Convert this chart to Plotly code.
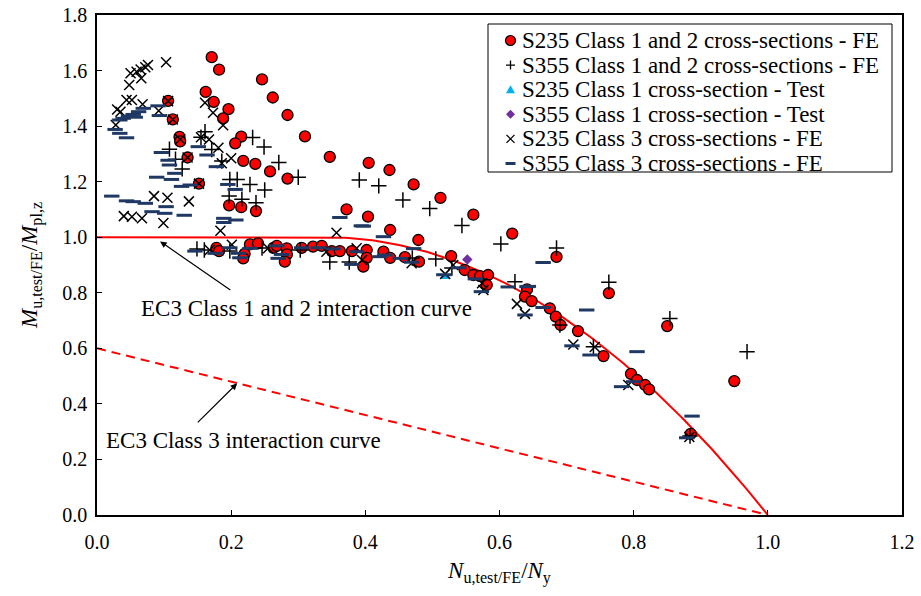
import numpy as np
import plotly.graph_objects as go

# ---- S235 Class 1 and 2 cross-sections - FE ----
s235_c12_n = [0.171, 0.182, 0.162, 0.174, 0.196, 0.188, 0.246, 0.262, 0.284, 0.310, 0.347,
              0.405, 0.436, 0.472, 0.512, 0.561, 0.619, 0.685, 0.763, 0.850, 0.950,
              0.215, 0.206, 0.218, 0.236, 0.258, 0.284, 0.197, 0.215, 0.237,
              0.106, 0.113, 0.123, 0.124, 0.135, 0.152,
              0.372, 0.404, 0.437, 0.479, 0.528,
              0.178, 0.182, 0.220, 0.218, 0.228, 0.240, 0.263, 0.268, 0.283, 0.283, 0.280,
              0.305, 0.322, 0.335, 0.350, 0.362, 0.380, 0.402, 0.402, 0.397, 0.427, 0.437,
              0.459, 0.480, 0.548, 0.561, 0.571, 0.583, 0.581, 0.641, 0.638, 0.648, 0.675,
              0.684, 0.691, 0.717, 0.755, 0.796, 0.805, 0.817, 0.823, 0.885]
s235_c12_m = [1.648, 1.603, 1.523, 1.487, 1.461, 1.428, 1.568, 1.503, 1.440, 1.363, 1.289,
              1.268, 1.242, 1.190, 1.142, 1.081, 1.013, 0.929, 0.799, 0.680, 0.482,
              1.362, 1.338, 1.275, 1.264, 1.237, 1.211, 1.115, 1.108, 1.094,
              1.491, 1.424, 1.361, 1.345, 1.287, 1.193,
              1.100, 1.074, 1.026, 0.990, 0.932,
              0.962, 0.950, 0.940, 0.924, 0.974, 0.978, 0.962, 0.969, 0.960, 0.938, 0.912,
              0.962, 0.966, 0.969, 0.950, 0.950, 0.950, 0.954, 0.926, 0.894, 0.948, 0.926,
              0.928, 0.912, 0.882, 0.864, 0.860, 0.864, 0.828, 0.812, 0.786, 0.770, 0.744,
              0.714, 0.684, 0.662, 0.572, 0.508, 0.486, 0.468, 0.452, 0.292]

# ---- S355 Class 1 and 2 cross-sections - FE ----
s355_c12_n = [0.161, 0.155, 0.232, 0.249, 0.271, 0.300, 0.108, 0.117, 0.127, 0.171, 0.186,
              0.198, 0.209, 0.228, 0.250, 0.197, 0.216, 0.237, 0.391, 0.420, 0.456, 0.496,
              0.544, 0.602, 0.685, 0.763, 0.854, 0.969, 0.623, 0.740,
              0.149, 0.160, 0.198, 0.246, 0.303, 0.347, 0.376, 0.470, 0.505, 0.529, 0.690, 0.884]
s355_c12_m = [1.380, 1.360, 1.359, 1.325, 1.269, 1.216, 1.317, 1.281, 1.246, 1.316, 1.274,
              1.208, 1.208, 1.190, 1.170, 1.148, 1.137, 1.124, 1.206, 1.185, 1.134, 1.103,
              1.042, 0.976, 0.961, 0.838, 0.707, 0.588, 0.840, 0.606,
              0.958, 0.954, 0.950, 0.961, 0.954, 0.911, 0.911, 0.925, 0.922, 0.889, 0.684, 0.284]

# ---- Tests ----
s235_test_n = [0.520]
s235_test_m = [0.857]
s355_test_n = [0.552]
s355_test_m = [0.920]

# ---- S235 Class 3 cross-sections - FE ----
s235_c3_n = [0.103, 0.076, 0.072, 0.065, 0.059, 0.050, 0.066, 0.048, 0.044, 0.052, 0.030,
             0.035, 0.068, 0.092, 0.028, 0.161, 0.173, 0.188, 0.155, 0.167, 0.181, 0.200,
             0.186, 0.085, 0.105, 0.137, 0.040, 0.052, 0.067, 0.099, 0.184, 0.357,
             0.106, 0.113, 0.124, 0.135, 0.152,
             0.201, 0.255, 0.342, 0.387, 0.395, 0.469, 0.519, 0.531, 0.574, 0.576, 0.626,
             0.638, 0.710, 0.742, 0.792, 0.883, 0.168]
s235_c3_m = [1.630, 1.620, 1.612, 1.604, 1.596, 1.590, 1.572, 1.548, 1.494, 1.494, 1.460,
             1.452, 1.479, 1.455, 1.404, 1.484, 1.448, 1.403, 1.360, 1.352, 1.322, 1.284,
             1.266, 1.148, 1.142, 1.129, 1.076, 1.074, 1.068, 1.051, 1.023, 1.016,
             1.490, 1.424, 1.353, 1.287, 1.193,
             0.973, 0.960, 0.948, 0.960, 0.918, 0.906, 0.868, 0.900, 0.834, 0.810, 0.760,
             0.724, 0.614, 0.605, 0.468, 0.281, 0.954]

# ---- S355 Class 3 cross-sections - FE ----
s355_c3_n = [0.022, 0.044, 0.054, 0.072, 0.082, 0.101, 0.130, 0.103, 0.089, 0.111, 0.027,
             0.034, 0.044, 0.034, 0.039, 0.047, 0.054, 0.062, 0.069, 0.057, 0.091, 0.093,
             0.096, 0.106, 0.108, 0.116, 0.126, 0.151, 0.164, 0.178, 0.195, 0.206, 0.207,
             0.189, 0.189, 0.139, 0.362, 0.394, 0.427, 0.472, 0.665, 0.380, 0.517, 0.613,
             0.643, 0.638, 0.665, 0.730, 0.708, 0.735, 0.805, 0.782, 0.887, 0.879, 0.800,
             0.539, 0.564, 0.573, 0.641, 0.429, 0.452, 0.469,
             0.146, 0.176, 0.198, 0.211, 0.213, 0.228, 0.268, 0.275, 0.270, 0.305, 0.330,
             0.352, 0.387, 0.422, 0.397]
s355_c3_m = [1.148, 1.131, 1.128, 1.122, 1.092, 1.086, 1.079, 1.110, 1.216, 1.208, 1.388,
             1.374, 1.358, 1.422, 1.428, 1.436, 1.442, 1.452, 1.464, 1.432, 1.473, 1.438,
             1.305, 1.277, 1.260, 1.230, 1.183, 1.326, 1.296, 1.254, 1.190, 1.172, 1.062,
             1.068, 1.053, 1.188, 1.071, 1.041, 1.002, 0.959, 0.909, 0.902, 0.865, 0.821,
             0.823, 0.720, 0.747, 0.738, 0.609, 0.576, 0.588, 0.462, 0.356, 0.278, 0.480,
             0.890, 0.850, 0.804, 0.822, 0.936, 0.924, 0.910,
             0.950, 0.942, 0.962, 0.942, 0.926, 0.960, 0.969, 0.938, 0.924, 0.962, 0.962,
             0.958, 0.948, 0.930, 1.040]

# ---- EC3 interaction curves (minor axis) ----
a_web = 0.34                      # web area ratio a = (A - 2 b tf) / A
n_curve = np.linspace(0.0, 1.0, 201)
m_curve = np.where(n_curve <= a_web, 1.0, 1.0 - ((n_curve - a_web) / (1.0 - a_web)) ** 2)
n_class3 = [0.0, 1.0]
m_class3 = [0.6, 0.0]

series_labels = [
    "S235 Class 1 and 2 cross-sections - FE",
    "S355 Class 1 and 2 cross-sections - FE",
    "S235 Class 1 cross-section - Test",
    "S355 Class 1 cross-section - Test",
    "S235 Class 3 cross-sections - FE",
    "S355 Class 3 cross-sections - FE",
]

FONT = "Liberation Serif, Times New Roman, serif"
NAVY = "#1F3864"
RED = "#FF0000"
CYAN = "#00B0F0"
PURPLE = "#7030A0"

# figure geometry (pixels)
W, H = 921, 596
ML, MR, MT, MB = 97, 19, 15, 81
PW, PH = W - ML - MR, H - MT - MB


def px_x(px):
    return (px - ML) / PW


def px_y(py):
    return (H - MB - py) / PH


fig = go.Figure()

fig.add_trace(go.Scatter(x=n_curve, y=m_curve, mode="lines", showlegend=False,
                         line=dict(color=RED, width=2)))
fig.add_trace(go.Scatter(x=n_class3, y=m_class3, mode="lines", showlegend=False,
                         line=dict(color=RED, width=2, dash="9px,6px")))

fig.add_trace(go.Scatter(
    x=s235_c12_n, y=s235_c12_m, mode="markers", name=series_labels[0], showlegend=False,
    marker=dict(symbol="circle", size=11, color=RED, line=dict(color="black", width=1.3))))
fig.add_trace(go.Scatter(
    x=s355_c12_n, y=s355_c12_m, mode="markers", name=series_labels[1], showlegend=False,
    marker=dict(symbol="cross-thin", size=11, color="black", line=dict(color="black", width=1.5))))
fig.add_trace(go.Scatter(
    x=s235_test_n, y=s235_test_m, mode="markers", name=series_labels[2], showlegend=False,
    marker=dict(symbol="triangle-up", size=8, color=CYAN, line=dict(width=0))))
fig.add_trace(go.Scatter(
    x=s355_test_n, y=s355_test_m, mode="markers", name=series_labels[3], showlegend=False,
    marker=dict(symbol="diamond", size=8, color=PURPLE, line=dict(width=0))))
fig.add_trace(go.Scatter(
    x=s235_c3_n, y=s235_c3_m, mode="markers", name=series_labels[4], showlegend=False,
    marker=dict(symbol="x-thin", size=10, color="black", line=dict(color="black", width=1.5))))
fig.add_trace(go.Scatter(
    x=s355_c3_n, y=s355_c3_m, mode="markers", name=series_labels[5], showlegend=False,
    marker=dict(symbol="line-ew", size=11, color=NAVY, line=dict(color=NAVY, width=3))))

# ---- legend box (drawn as shapes + text so row pitch stays compact) ----
box_l, box_r, box_t, box_b = 488, 892, 24, 172
row0, pitch = 40.5, 24.6
sym_x, txt_x = 510.5, 520

shapes = [dict(type="rect", xref="paper", yref="paper", layer="above",
               x0=px_x(box_l), x1=px_x(box_r), y0=px_y(box_b), y1=px_y(box_t),
               line=dict(color="black", width=1), fillcolor="white")]

symbol_specs = [
    dict(type="circle", x0=-5, x1=5, y0=-5, y1=5, fillcolor=RED, line=dict(color="black", width=1.2)),
    dict(type="path", path="M-4.5,0H4.5M0,-4.5V4.5", line=dict(color="black", width=1.3)),
    dict(type="path", path="M-4.5,-3.5L4.5,-3.5L0,4.5Z", fillcolor=CYAN, line=dict(width=0)),
    dict(type="path", path="M0,-4.5L4.5,0L0,4.5L-4.5,0Z", fillcolor=PURPLE, line=dict(width=0)),
    dict(type="path", path="M-4,-4L4,4M-4,4L4,-4", line=dict(color="black", width=1.3)),
    dict(type="path", path="M-5,0H5", line=dict(color=NAVY, width=3)),
]

annotations = []
for i, (label, spec) in enumerate(zip(series_labels, symbol_specs)):
    yc = row0 + i * pitch
    shp = dict(xref="paper", yref="paper", layer="above",
               xsizemode="pixel", ysizemode="pixel",
               xanchor=px_x(sym_x), yanchor=px_y(yc))
    shp.update(spec)
    shapes.append(shp)
    annotations.append(dict(xref="paper", yref="paper", x=px_x(txt_x), y=px_y(yc),
                            xanchor="left", yanchor="middle", showarrow=False, text=label,
                            font=dict(family=FONT, size=23, color="black")))

# Curve labels with arrows
annotations += [
    dict(x=0.094, y=0.985, ax=0.201, ay=0.806, xref="x", yref="y", axref="x", ayref="y",
         text="", showarrow=True, arrowhead=2, arrowsize=1.1, arrowwidth=1.2, arrowcolor="black"),
    dict(x=0.312, y=0.742, xref="x", yref="y", showarrow=False,
         text="EC3 Class 1 and 2 interaction curve",
         font=dict(family=FONT, size=23, color="black")),
    dict(x=0.209, y=0.474, ax=0.148, ay=0.328, xref="x", yref="y", axref="x", ayref="y",
         text="", showarrow=True, arrowhead=2, arrowsize=1.1, arrowwidth=1.2, arrowcolor="black"),
    dict(x=0.218, y=0.268, xref="x", yref="y", showarrow=False,
         text="EC3 Class 3 interaction curve",
         font=dict(family=FONT, size=23, color="black")),
]

axis_common = dict(showgrid=False, zeroline=False, showline=True, linecolor="black",
                   linewidth=1.5, mirror=True, ticks="inside", ticklen=5, tickwidth=1,
                   tickcolor="black", tickfont=dict(family=FONT, size=20, color="black"),
                   tickformat=".1f", automargin=False)

fig.update_xaxes(range=[0, 1.2], dtick=0.2, tick0=0, ticklabelstandoff=8,
                 title=dict(text="<i>N</i><sub>u,test/FE</sub>/<i>N</i><sub>y</sub>",
                            font=dict(family=FONT, size=23, color="black"), standoff=10),
                 **axis_common)
fig.update_yaxes(range=[0, 1.8], dtick=0.2, tick0=0, ticklabelstandoff=4,
                 title=dict(text="<i>M</i><sub>u,test/FE</sub>/<i>M</i><sub>pl,z</sub>",
                            font=dict(family=FONT, size=23, color="black"), standoff=18),
                 **axis_common)

fig.update_layout(
    width=W, height=H,
    margin=dict(l=ML, r=MR, t=MT, b=MB, autoexpand=False),
    paper_bgcolor="white", plot_bgcolor="white",
    font=dict(family=FONT, color="black"),
    showlegend=False,
    shapes=shapes,
    annotations=annotations,
)

fig.write_html("out.html")
